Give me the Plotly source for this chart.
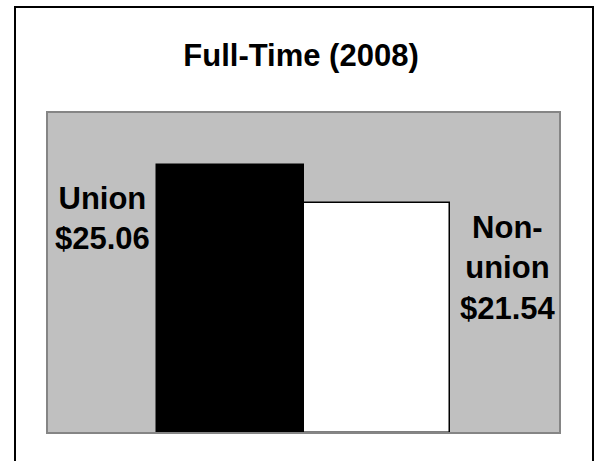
import plotly.graph_objects as go

categories = ["Union", "Non-union"]
wages = [25.06, 21.54]
label_texts = ["Union<br>$25.06", "Non-<br>union<br>$21.54"]
title_text = "Full-Time (2008)"

FONT = "Liberation Sans, Arial, sans-serif"

L, T, PW, PH = 47, 112, 513, 321

fig = go.Figure()
fig.add_trace(go.Bar(
    x=[0, 1],
    y=wages,
    width=1.0,
    marker=dict(color=["#000000", "#ffffff"], line=dict(color="#000000", width=1.5)),
    hoverinfo="skip",
))

# labels beside bars
fig.add_annotation(x=-0.87, y=20.05, text="<b>" + label_texts[0] + "</b>", showarrow=False,
                   xanchor="center", yanchor="middle",
                   font=dict(family=FONT, size=31, color="#000000"))
fig.add_annotation(x=1.891, y=15.42, text="<b>" + label_texts[1] + "</b>", showarrow=False,
                   xanchor="center", yanchor="middle",
                   font=dict(family=FONT, size=31, color="#000000"))

fig.update_layout(
    width=597, height=461,
    margin=dict(l=L, r=597 - L - PW, t=T, b=461 - T - PH),
    paper_bgcolor="#ffffff",
    plot_bgcolor="#c0c0c0",
    showlegend=False,
    bargap=0,
    title=dict(text="<b>" + title_text + "</b>", x=301 / 597, xanchor="center",
               y=1 - 55 / 461, yanchor="middle", yref="container",
               font=dict(family=FONT, size=31, color="#000000")),
    xaxis=dict(range=[-1.245, 2.245], showticklabels=False, showgrid=False,
               zeroline=False, showline=False, ticks="", fixedrange=True),
    yaxis=dict(range=[0, 30], showticklabels=False, showgrid=False,
               zeroline=False, showline=False, ticks="", fixedrange=True),
    shapes=[
        # plot area border
        dict(type="rect", xref="paper", yref="paper", x0=0, y0=0, x1=1, y1=1,
             line=dict(color="#858585", width=2), layer="above"),
        # outer chart border
        dict(type="rect", xref="paper", yref="paper",
             x0=(15 - L) / PW, x1=(593 - L) / PW,
             y0=(T + PH - 480) / PH, y1=(T + PH - 7) / PH,
             line=dict(color="#000000", width=2)),
    ],
)

fig.write_html(
    "out.html",
    config={"displayModeBar": False},
    post_script="document.body.style.margin='0';document.body.style.overflow='hidden';",
)
